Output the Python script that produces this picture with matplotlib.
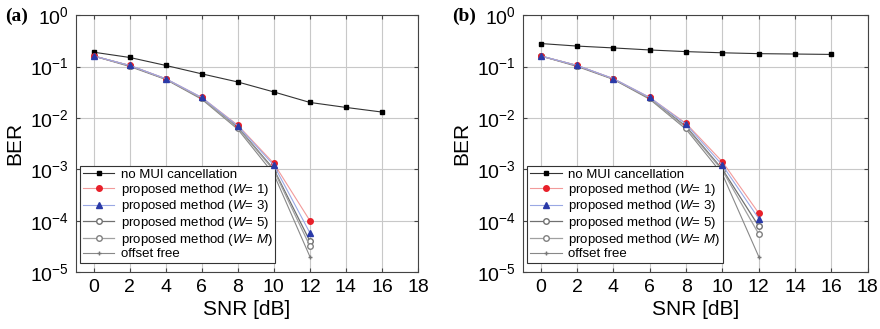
import matplotlib
matplotlib.use("Agg")
import matplotlib.pyplot as plt

plt.rcParams['font.family'] = ['Liberation Sans', 'DejaVu Sans']
plt.rcParams['mathtext.fontset'] = 'custom'
plt.rcParams['mathtext.rm'] = 'Liberation Sans'
plt.rcParams['mathtext.it'] = 'Liberation Sans:italic'

snr_full = [0, 2, 4, 6, 8, 10, 12, 14, 16]
snr_prop = [0, 2, 4, 6, 8, 10, 12]

# panel (a)
a_no_mui = [0.19, 0.15, 0.105, 0.072, 0.05, 0.032, 0.02, 0.016, 0.013]
a_w1 = [0.16, 0.105, 0.058, 0.025, 0.0072, 0.0013, 1.0e-4]
a_w3 = [0.16, 0.105, 0.058, 0.025, 0.0070, 0.0012, 5.8e-5]
a_w5 = [0.16, 0.104, 0.057, 0.024, 0.0066, 0.0010, 4.0e-5]
a_wm = [0.16, 0.104, 0.057, 0.024, 0.0064, 0.00095, 3.2e-5]
a_free = [0.16, 0.10, 0.056, 0.023, 0.0060, 0.0008, 2.0e-5]

# panel (b)
b_no_mui = [0.28, 0.25, 0.23, 0.21, 0.195, 0.185, 0.178, 0.175, 0.172]
b_w1 = [0.16, 0.105, 0.058, 0.025, 0.0078, 0.0014, 1.4e-4]
b_w3 = [0.16, 0.105, 0.058, 0.025, 0.0075, 0.0012, 1.1e-4]
b_w5 = [0.16, 0.104, 0.057, 0.024, 0.0068, 0.0010, 7.8e-5]
b_wm = [0.16, 0.104, 0.057, 0.024, 0.0065, 0.00095, 5.5e-5]
b_free = [0.16, 0.10, 0.056, 0.023, 0.0060, 0.0008, 2.0e-5]

labels = ["no MUI cancellation",
          "proposed method ($\\mathit{W}$= 1)",
          "proposed method ($\\mathit{W}$= 3)",
          "proposed method ($\\mathit{W}$= 5)",
          "proposed method ($\\mathit{W}$= $\\mathit{M}$)",
          "offset free"]
xticks = [0, 2, 4, 6, 8, 10, 12, 14, 16, 18]
yticks = [1e-5, 1e-4, 1e-3, 1e-2, 1e-1, 1e0]
ytick_labels = ["$10^{-5}$", "$10^{-4}$", "$10^{-3}$", "$10^{-2}$", "$10^{-1}$", "$10^{0}$"]

fig = plt.figure(figsize=(8.8, 3.29), dpi=100)
ax_a = fig.add_axes([0.086, 0.173, 0.389, 0.781])
ax_b = fig.add_axes([0.594, 0.173, 0.392, 0.781])


def draw(ax, no_mui, w1, w3, w5, wm, free, tag, tag_x):
    ax.set_yscale('log')
    ax.plot(snr_full, no_mui, '-', color='#333333', lw=0.8, marker='s', ms=3.5,
            mfc='black', mec='black', label=labels[0], zorder=5)
    ax.plot(snr_prop, w1, '-', color='#f29a9a', lw=0.8, marker='o', ms=4,
            mfc='#e8202a', mec='#e8202a', label=labels[1], zorder=6)
    ax.plot(snr_prop, w3, '-', color='#9aa8e4', lw=0.8, marker='^', ms=4,
            mfc='#2a3aa8', mec='#2a3aa8', label=labels[2], zorder=6)
    ax.plot(snr_prop, w5, '-', color='#707070', lw=0.9, marker='o', ms=4,
            mfc='white', mec='#707070', label=labels[3], zorder=4)
    ax.plot(snr_prop, wm, '-', color='#a0a0a0', lw=0.9, marker='o', ms=4,
            mfc='white', mec='#808080', label=labels[4], zorder=4)
    ax.plot(snr_prop, free, '-', color='#888888', lw=0.8, marker='+', ms=3,
            mec='#777777', label=labels[5], zorder=3)

    ax.set_xlim(-1, 18)
    ax.set_ylim(1e-5, 1e0)
    ax.set_xticks(xticks)
    ax.set_xticklabels([str(t) for t in xticks])
    ax.set_yticks(yticks)
    ax.set_yticklabels(ytick_labels)
    ax.yaxis.set_minor_locator(matplotlib.ticker.NullLocator())
    ax.tick_params(axis='both', which='major', labelsize=14, direction='in',
                   length=3, top=True, right=True, color='#444444', pad=5)
    ax.grid(True, color='#c8c8c8', lw=0.8)
    ax.set_axisbelow(True)
    for s in ax.spines.values():
        s.set_color('#444444')
        s.set_linewidth(0.8)
    ax.set_xlabel("SNR [dB]", fontsize=15, labelpad=3)
    ax.set_ylabel("BER", fontsize=15, labelpad=4)
    leg = ax.legend(loc='lower left', bbox_to_anchor=(0.013, 0.035), borderaxespad=0,
                    fontsize=9.5, frameon=True, fancybox=False, handlelength=2.4,
                    handletextpad=0.5, labelspacing=0.05, borderpad=0.2,
                    edgecolor='#333333', framealpha=1)
    leg.get_frame().set_linewidth(0.8)
    fig.text(tag_x, 1 - 16 / 329, tag, fontsize=14, fontweight='bold',
             family='Liberation Serif', ha='left', va='center')


draw(ax_a, a_no_mui, a_w1, a_w3, a_w5, a_wm, a_free, "(a)", 5 / 880)
draw(ax_b, b_no_mui, b_w1, b_w3, b_w5, b_wm, b_free, "(b)", 452 / 880)

fig.savefig("out.png", dpi=100)
